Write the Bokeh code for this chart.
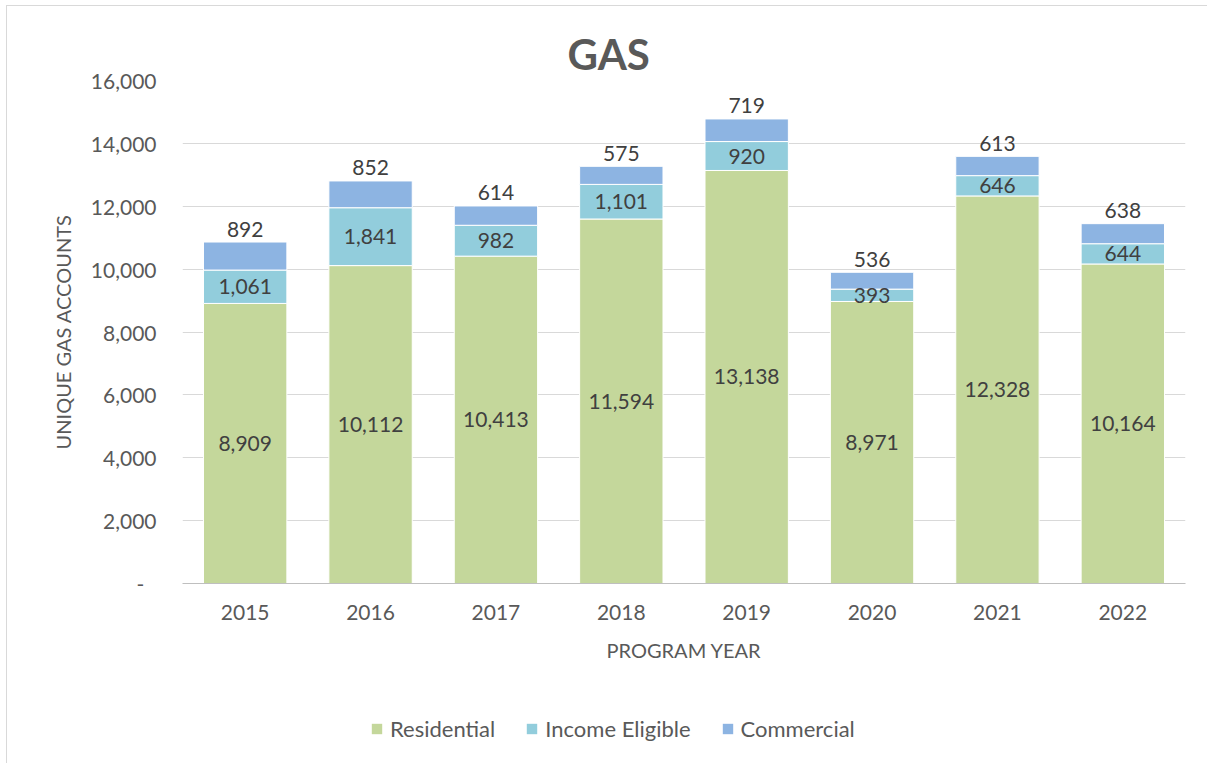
from bokeh.plotting import figure
from bokeh.models import (ColumnDataSource, FactorRange, FixedTicker, NumeralTickFormatter,
                          LabelSet, Legend, LegendItem, Range1d)
from bokeh.layouts import column
from bokeh.core.properties import value
from bokeh.embed import file_html
from bokeh.resources import INLINE

years = ["2015", "2016", "2017", "2018", "2019", "2020", "2021", "2022"]
residential = [8909, 10112, 10413, 11594, 13138, 8971, 12328, 10164]
income_eligible = [1061, 1841, 982, 1101, 920, 393, 646, 644]
commercial = [892, 852, 614, 575, 719, 536, 613, 638]
series_names = ["Residential", "Income Eligible", "Commercial"]
series_cols = ["Residential", "IncomeEligible", "Commercial"]
colors = ["#C4D79B", "#92CDDC", "#8DB4E2"]
y_ticks = list(range(0, 16001, 2000))

FONT = "Lato"

res_mid = [r / 2 for r in residential]
inc_mid = [r + i / 2 for r, i in zip(residential, income_eligible)]
tops = [r + i + c for r, i, c in zip(residential, income_eligible, commercial)]

source = ColumnDataSource(data=dict(
    year=years,
    Residential=residential,
    IncomeEligible=income_eligible,
    Commercial=commercial,
    res_mid=res_mid, inc_mid=inc_mid, top=tops,
    res_lbl=[f"{v:,}" for v in residential],
    inc_lbl=[f"{v:,}" for v in income_eligible],
    com_lbl=[f"{v:,}" for v in commercial],
))

p = figure(x_range=FactorRange(*years), y_range=(0, 16000),
           width=1200, height=684, output_backend="svg", toolbar_location=None,
           min_border_left=175, min_border_right=22, min_border_top=74, min_border_bottom=107)
p.outline_line_color = None
p.background_fill_color = "white"
p.border_fill_color = "white"

p.vbar_stack(series_cols, x="year", width=0.665,
             color=colors, line_color="white", line_width=1, source=source)

# title
p.title.text = "GAS"
p.title.align = "left"
p.title.offset = 385
p.title.standoff = 4
p.title.text_font = FONT
p.title.text_font_size = "42px"
p.title.text_font_style = "bold"
p.title.text_color = "#595959"

# grid / axes
p.xgrid.grid_line_color = None
p.ygrid.grid_line_color = "#D9D9D9"
p.ygrid.grid_line_width = 1
p.yaxis.ticker = FixedTicker(ticks=y_ticks)
p.yaxis.formatter = NumeralTickFormatter(format="0,0")
p.yaxis.major_label_overrides = {0: "-\u2007"}
p.yaxis.axis_line_color = None
p.yaxis.major_tick_line_color = None
p.yaxis.minor_tick_line_color = None
p.yaxis.major_label_standoff = 20
p.yaxis.major_label_text_font = FONT
p.yaxis.major_label_text_font_size = "21px"
p.yaxis.major_label_text_color = "#595959"
p.yaxis.axis_label = "UNIQUE GAS ACCOUNTS"
p.yaxis.axis_label_text_font = FONT
p.yaxis.axis_label_text_font_style = "normal"
p.yaxis.axis_label_text_font_size = "20px"
p.yaxis.axis_label_text_color = "#595959"
p.yaxis.axis_label_standoff = 13

p.xaxis.axis_line_color = "#BFBFBF"
p.xaxis.axis_line_width = 1
p.xaxis.major_tick_line_color = None
p.xaxis.minor_tick_line_color = None
p.xaxis.major_label_standoff = 15
p.xaxis.major_label_text_font = FONT
p.xaxis.major_label_text_font_size = "21px"
p.xaxis.major_label_text_color = "#595959"
p.xaxis.axis_label = "PROGRAM YEAR"
p.xaxis.axis_label_text_font = FONT
p.xaxis.axis_label_text_font_style = "normal"
p.xaxis.axis_label_text_font_size = "20px"
p.xaxis.axis_label_text_color = "#595959"
p.xaxis.axis_label_standoff = 15

# data labels
for ycol, tcol, yoff in [("res_mid", "res_lbl", 0), ("inc_mid", "inc_lbl", 0), ("top", "com_lbl", 13)]:
    p.add_layout(LabelSet(x="year", y=ycol, text=tcol, source=source, y_offset=yoff,
                          text_align="center", text_baseline="middle",
                          text_font=value(FONT), text_font_size="21px", text_color="#404040"))

# legend strip: same data, but on a factor range that does not contain the years,
# so the bars themselves are not drawn here; only their legend swatches are
lg = figure(width=1200, height=73, output_backend="svg", toolbar_location=None,
            x_range=FactorRange(*series_names), y_range=Range1d(0, 1),
            x_axis_type=None, y_axis_type=None,
            min_border_left=0, min_border_right=0, min_border_top=0, min_border_bottom=0)
lg.outline_line_color = None
lg.xgrid.visible = False
lg.ygrid.visible = False
items = []
for n, col, c in zip(series_names, series_cols, colors):
    r = lg.vbar(x="year", top=col, bottom=0, width=0.5, source=source, fill_color=c, line_color=None)
    items.append(LegendItem(label=n, renderers=[r]))
legend = Legend(items=items, orientation="horizontal", location=(188, 21),
                glyph_width=13, glyph_height=13, label_standoff=7, spacing=30, padding=0,
                border_line_color=None, background_fill_alpha=0,
                label_text_font=FONT, label_text_font_size="22px", label_text_color="#595959")
lg.add_layout(legend, "center")

layout = column(p, lg, spacing=0)
layout.styles = {"margin-left": "6px", "margin-top": "5px",
                 "border-left": "1px solid #D9D9D9", "border-top": "1px solid #D9D9D9"}

open("out.html", "w").write(file_html(layout, INLINE))
